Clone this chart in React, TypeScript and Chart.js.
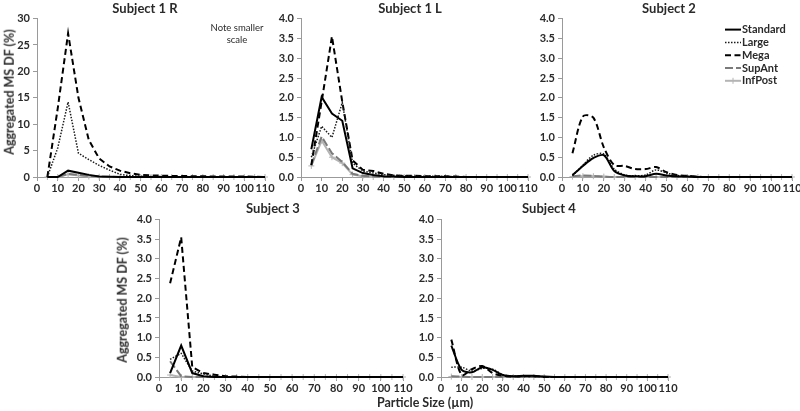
import React, { useEffect, useRef } from "react";
import { Chart, registerables } from "chart.js";
Chart.register(...registerables);

// Particle size bins (µm)
const SIZES = [5, 10, 15, 20, 25, 30, 35, 40, 45, 50, 55, 60, 65, 70, 75, 80, 85, 90, 95, 100, 105, 110];
const SERIES_NAMES = ["Standard", "Large", "Mega", "SupAnt", "InfPost"];
const X_TICKS_MAX = 110;

// Subject 1 R (note smaller scale 0-30)
const S1R_STANDARD = [0, 0, 1.2, 0.8, 0.4, 0.1, 0.05, 0.02, 0, 0, 0, 0, 0, 0, 0, 0, 0, 0, 0, 0, 0, 0];
const S1R_LARGE = [0, 5.5, 14.2, 4.5, 3.3, 2.2, 1.3, 0.5, 0.25, 0.15, 0.1, 0.08, 0.05, 0.05, 0.03, 0.03, 0.02, 0.02, 0.02, 0.01, 0.01, 0];
const S1R_MEGA = [0, 13, 27.2, 15, 7, 3.5, 2.0, 1.2, 0.7, 0.4, 0.3, 0.25, 0.2, 0.2, 0.15, 0.15, 0.1, 0.1, 0.1, 0.1, 0.05, 0];
const S1R_SUPANT = [0, 0, 0.6, 0.4, 0.2, 0.1, 0.05, 0, 0, 0, 0, 0, 0, 0, 0, 0, 0, 0, 0, 0, 0, 0];
const S1R_INFPOST = [0, 0, 0.5, 0.3, 0.1, 0.05, 0, 0, 0, 0, 0, 0, 0, 0, 0, 0, 0, 0, 0, 0, 0, 0];

// Subject 1 L
const S1L_STANDARD = [0.7, 2.02, 1.6, 1.42, 0.22, 0.1, 0.05, 0.02, 0.01, 0, 0, 0, 0, 0, 0, 0, 0, 0, 0, 0, 0, 0];
const S1L_LARGE = [0.5, 1.28, 1.0, 1.88, 0.35, 0.15, 0.1, 0.06, 0.04, 0.03, 0.02, 0.02, 0.02, 0.02, 0.01, 0, 0, 0, 0, 0, 0, 0];
const S1L_MEGA = [0.3, 1.9, 3.55, 1.9, 0.42, 0.18, 0.15, 0.08, 0.04, 0.03, 0.03, 0.02, 0.02, 0.02, 0.01, 0, 0, 0, 0, 0, 0, 0];
const S1L_SUPANT = [0.3, 1.02, 0.6, 0.38, 0.08, 0.03, 0.01, 0, 0, 0, 0, 0, 0, 0, 0, 0, 0, 0, 0, 0, 0, 0];
const S1L_INFPOST = [0.28, 0.92, 0.5, 0.35, 0.06, 0.02, 0, 0, 0, 0, 0, 0, 0, 0, 0, 0, 0, 0, 0, 0, 0, 0];

// Subject 2
const S2_STANDARD = [0.05, 0.28, 0.48, 0.55, 0.15, 0.04, 0.02, 0.02, 0.08, 0.04, 0.02, 0.01, 0, 0, 0, 0, 0, 0, 0, 0, 0, 0];
const S2_LARGE = [0.03, 0.3, 0.55, 0.58, 0.2, 0.05, 0.03, 0.05, 0.18, 0.1, 0.04, 0.02, 0.01, 0, 0, 0, 0, 0, 0, 0, 0, 0];
const S2_MEGA = [0.6, 1.53, 1.5, 0.75, 0.3, 0.28, 0.2, 0.2, 0.25, 0.12, 0.05, 0.03, 0.01, 0, 0, 0, 0, 0, 0, 0, 0, 0];
const S2_SUPANT = [0.02, 0.04, 0.03, 0.01, 0, 0, 0, 0, 0, 0, 0, 0, 0, 0, 0, 0, 0, 0, 0, 0, 0, 0];
const S2_INFPOST = [0.01, 0.02, 0.02, 0.01, 0, 0, 0, 0, 0, 0, 0, 0, 0, 0, 0, 0, 0, 0, 0, 0, 0, 0];

// Subject 3
const S3_STANDARD = [0.1, 0.8, 0.1, 0.02, 0, 0, 0, 0, 0, 0, 0, 0, 0, 0, 0, 0, 0, 0, 0, 0, 0, 0];
const S3_LARGE = [0.45, 0.6, 0.15, 0.08, 0.02, 0, 0, 0, 0, 0, 0, 0, 0, 0, 0, 0, 0, 0, 0, 0, 0, 0];
const S3_MEGA = [2.38, 3.55, 0.25, 0.1, 0.06, 0.02, 0.01, 0, 0, 0, 0, 0, 0, 0, 0, 0, 0, 0, 0, 0, 0, 0];
const S3_SUPANT = [0.4, 0.02, 0, 0, 0, 0, 0, 0, 0, 0, 0, 0, 0, 0, 0, 0, 0, 0, 0, 0, 0, 0];
const S3_INFPOST = [0.05, 0, 0, 0, 0, 0, 0, 0, 0, 0, 0, 0, 0, 0, 0, 0, 0, 0, 0, 0, 0, 0];

// Subject 4
const S4_STANDARD = [0.8, 0.18, 0.12, 0.25, 0.18, 0.05, 0.02, 0.03, 0.03, 0.01, 0, 0, 0, 0, 0, 0, 0, 0, 0, 0, 0, 0];
const S4_LARGE = [0.25, 0.25, 0.15, 0.22, 0.2, 0.06, 0.02, 0.03, 0.02, 0.01, 0, 0, 0, 0, 0, 0, 0, 0, 0, 0, 0, 0];
const S4_MEGA = [0.95, 0.05, 0.2, 0.28, 0.1, 0.03, 0.01, 0.02, 0.02, 0, 0, 0, 0, 0, 0, 0, 0, 0, 0, 0, 0, 0];
const S4_SUPANT = [0.02, 0.01, 0, 0, 0, 0, 0, 0, 0, 0, 0, 0, 0, 0, 0, 0, 0, 0, 0, 0, 0, 0];
const S4_INFPOST = [0.01, 0, 0, 0, 0, 0, 0, 0, 0, 0, 0, 0, 0, 0, 0, 0, 0, 0, 0, 0, 0, 0];

const FONT = "Lato, 'Open Sans', sans-serif";
const AXIS_COLOR = "#9a9a9a";
const TEXT_COLOR = "#2a2a2a";

const SERIES_STYLE = [
  { color: "#000000", width: 2, dash: [] as number[], point: false },
  { color: "#1a1a1a", width: 1.5, dash: [1.5, 1.5], point: false },
  { color: "#000000", width: 2, dash: [6, 3.5], point: false },
  { color: "#7a7a7a", width: 2, dash: [8, 3], point: false },
  { color: "#b4b4b4", width: 2, dash: [] as number[], point: true },
];

const PAD_TOP = 8;
const PAD_RIGHT = 12;
const Y_AXIS_W = 30;
const X_AXIS_H = 22;

const legendPlugin = {
  id: "panelLegend",
  afterDraw(chart: any) {
    const opts = chart.options.plugins.panelLegend;
    if (!opts || !opts.show) return;
    const ctx = chart.ctx;
    const x0 = chart.chartArea.right - 67;
    const y0 = chart.chartArea.top + 11;
    const rowH = 12.8;
    ctx.save();
    chart.data.datasets.forEach((ds: any, i: number) => {
      const y = y0 + i * rowH;
      ctx.strokeStyle = ds.borderColor;
      ctx.lineWidth = ds.borderWidth;
      ctx.setLineDash(ds.borderDash || []);
      ctx.beginPath();
      ctx.moveTo(x0, y);
      ctx.lineTo(x0 + 16, y);
      ctx.stroke();
      ctx.setLineDash([]);
      if (ds.pointStyle === "cross") {
        ctx.lineWidth = 1;
        ctx.beginPath();
        ctx.moveTo(x0 + 8, y - 3);
        ctx.lineTo(x0 + 8, y + 3);
        ctx.stroke();
      }
      ctx.fillStyle = TEXT_COLOR;
      ctx.font = `bold 11px ${FONT}`;
      ctx.textBaseline = "middle";
      ctx.textAlign = "left";
      ctx.fillText(ds.label, x0 + 17, y);
    });
    ctx.restore();
  },
};

type PanelProps = {
  series: number[][];
  yMax: number;
  yStep: number;
  decimals: number;
  tension: number;
  legend?: boolean;
  plotLeft: number;
  plotTop: number;
  plotRight: number;
  plotBottom: number;
};

function Panel(p: PanelProps) {
  const ref = useRef<HTMLCanvasElement | null>(null);
  const w = p.plotRight - p.plotLeft + Y_AXIS_W + PAD_RIGHT;
  const h = p.plotBottom - p.plotTop + PAD_TOP + X_AXIS_H;
  useEffect(() => {
    if (!ref.current) return;
    const tickFont = { family: FONT, size: 11, weight: "bold" as const };
    const chart = new Chart(ref.current, {
      type: "line",
      data: {
        datasets: p.series.map((vals, i) => {
          const st = SERIES_STYLE[i];
          return {
            label: SERIES_NAMES[i],
            data: SIZES.map((x, j) => ({ x, y: vals[j] })),
            borderColor: st.color,
            backgroundColor: st.color,
            borderWidth: st.width,
            borderDash: st.dash,
            pointStyle: st.point ? "cross" : "circle",
            pointRadius: st.point ? 3 : 0,
            pointBorderWidth: 1,
            pointBorderColor: st.color,
            tension: p.tension,
            fill: false,
            clip: 5,
          } as any;
        }),
      },
      options: {
        responsive: false,
        animation: false,
        events: [],
        layout: { padding: { top: PAD_TOP, right: PAD_RIGHT, left: 0, bottom: 0 } },
        plugins: {
          legend: { display: false },
          tooltip: { enabled: false },
          panelLegend: { show: !!p.legend },
        } as any,
        scales: {
          x: {
            type: "linear",
            min: 0,
            max: X_TICKS_MAX,
            ticks: { stepSize: 10, font: tickFont, color: TEXT_COLOR, padding: 1, maxRotation: 0, autoSkip: false },
            grid: { drawOnChartArea: false, drawTicks: true, tickLength: 4, color: AXIS_COLOR },
            border: { color: AXIS_COLOR, width: 1 },
            afterFit: (s: any) => {
              s.height = X_AXIS_H;
            },
          },
          y: {
            type: "linear",
            min: 0,
            max: p.yMax,
            ticks: {
              stepSize: p.yStep,
              font: tickFont,
              color: TEXT_COLOR,
              padding: 3,
              callback: (v: any) => Number(v).toFixed(p.decimals),
            },
            grid: { drawOnChartArea: false, drawTicks: true, tickLength: 4, color: AXIS_COLOR },
            border: { color: AXIS_COLOR, width: 1 },
            afterFit: (s: any) => {
              s.width = Y_AXIS_W;
            },
          },
        },
      } as any,
      plugins: [legendPlugin],
    });
    return () => chart.destroy();
  }, []);
  return (
    <canvas
      ref={ref}
      width={w}
      height={h}
      style={{
        position: "absolute",
        left: p.plotLeft - Y_AXIS_W,
        top: p.plotTop - PAD_TOP,
        width: w,
        height: h,
      }}
    />
  );
}

const textBase: React.CSSProperties = {
  position: "absolute",
  fontFamily: FONT,
  color: TEXT_COLOR,
  whiteSpace: "nowrap",
  transform: "translate(-50%, -50%)",
  lineHeight: 1,
};

function Label(props: { x: number; y: number; text: string; size: number; bold?: boolean; rotate?: boolean }) {
  return (
    <div
      style={{
        ...textBase,
        left: props.x,
        top: props.y,
        fontSize: props.size,
        fontWeight: props.bold ? 700 : 400,
        transform: props.rotate ? "translate(-50%, -50%) rotate(-90deg)" : "translate(-50%, -50%)",
      }}
    >
      {props.text}
    </div>
  );
}

export default function App() {
  return (
    <div style={{ position: "absolute", left: 0, top: 0, width: 800, height: 411, background: "#fff", overflow: "hidden" }}>
      <Panel
        series={[S1R_STANDARD, S1R_LARGE, S1R_MEGA, S1R_SUPANT, S1R_INFPOST]}
        yMax={30}
        yStep={5}
        decimals={0}
        tension={0}
        plotLeft={37}
        plotTop={17}
        plotRight={265}
        plotBottom={177}
      />
      <Panel
        series={[S1L_STANDARD, S1L_LARGE, S1L_MEGA, S1L_SUPANT, S1L_INFPOST]}
        yMax={4}
        yStep={0.5}
        decimals={1}
        tension={0}
        plotLeft={301}
        plotTop={17}
        plotRight={528}
        plotBottom={177}
      />
      <Panel
        series={[S2_STANDARD, S2_LARGE, S2_MEGA, S2_SUPANT, S2_INFPOST]}
        yMax={4}
        yStep={0.5}
        decimals={1}
        tension={0.3}
        legend
        plotLeft={562}
        plotTop={17}
        plotRight={792}
        plotBottom={177}
      />
      <Panel
        series={[S3_STANDARD, S3_LARGE, S3_MEGA, S3_SUPANT, S3_INFPOST]}
        yMax={4}
        yStep={0.5}
        decimals={1}
        tension={0}
        plotLeft={159}
        plotTop={218}
        plotRight={403}
        plotBottom={377}
      />
      <Panel
        series={[S4_STANDARD, S4_LARGE, S4_MEGA, S4_SUPANT, S4_INFPOST]}
        yMax={4}
        yStep={0.5}
        decimals={1}
        tension={0.3}
        plotLeft={441}
        plotTop={218}
        plotRight={668}
        plotBottom={377}
      />
      <Label x={145} y={8} text="Subject 1 R" size={13} bold />
      <Label x={410} y={8} text="Subject 1 L" size={13} bold />
      <Label x={669} y={8} text="Subject 2" size={13} bold />
      <Label x={273} y={208} text="Subject 3" size={13} bold />
      <Label x={549} y={208} text="Subject 4" size={13} bold />
      <Label x={237} y={28} text="Note smaller" size={9.5} />
      <Label x={237} y={40} text="scale" size={9.5} />
      <Label x={10} y={92} text="Aggregated MS DF (%)" size={12.5} bold rotate />
      <Label x={123} y={300} text="Aggregated MS DF (%)" size={12.5} bold rotate />
      <Label x={425} y={403} text="Particle Size (µm)" size={12.5} bold />
    </div>
  );
}
